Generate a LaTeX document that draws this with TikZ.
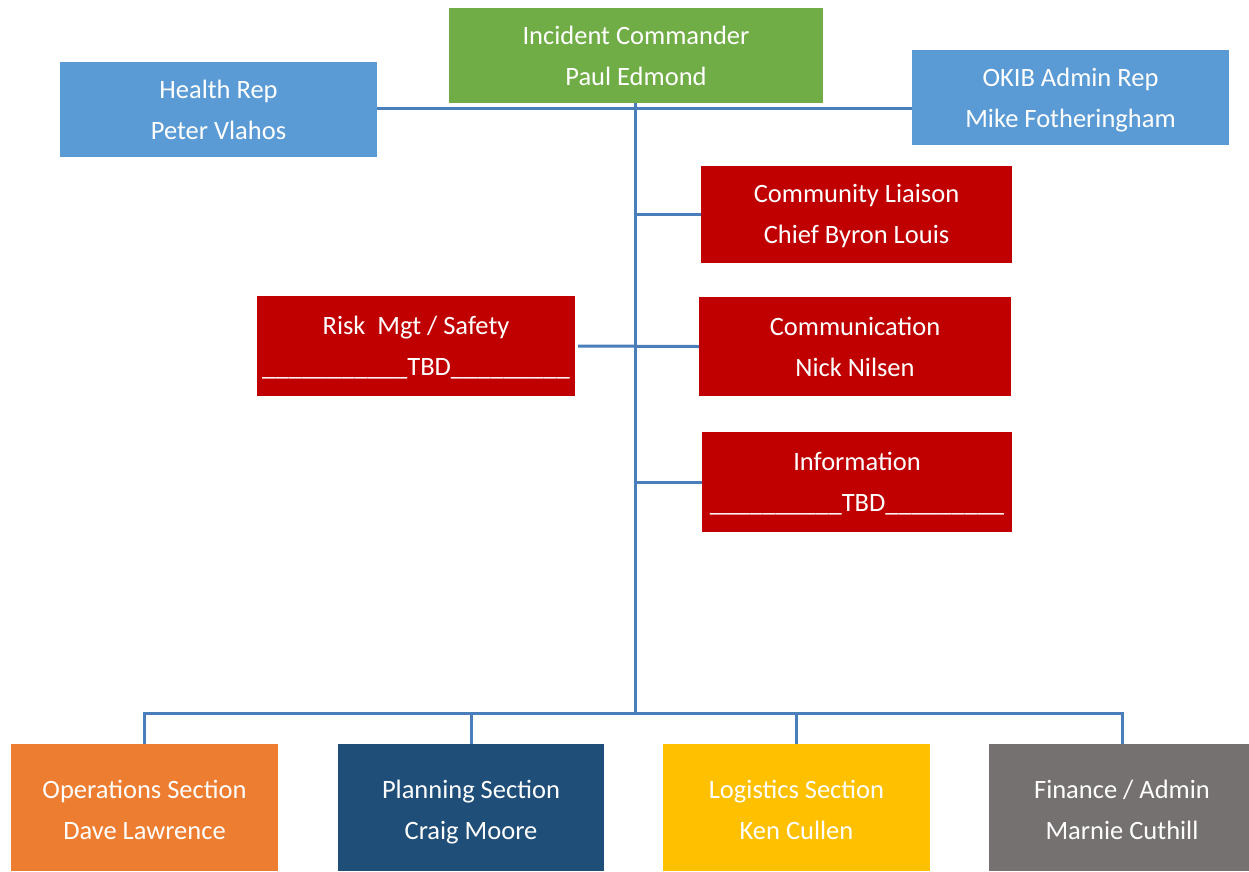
\documentclass[tikz,border=0pt]{standalone}
\usepackage{fontspec}
\setmainfont{Carlito}
\definecolor{icgreen}{HTML}{70AD47}
\definecolor{repblue}{HTML}{5B9BD5}
\definecolor{staffred}{HTML}{C00000}
\definecolor{opsorange}{HTML}{ED7D31}
\definecolor{plannavy}{HTML}{1F4E79}
\definecolor{loggold}{HTML}{FFC000}
\definecolor{fingray}{HTML}{767171}
\definecolor{linkblue}{HTML}{4A7EBB}
\begin{document}
\begin{tikzpicture}[x=1pt,y=-1pt,
  unit/.style 2 args={draw=none, inner sep=0pt, minimum width=#1, minimum height=#2},
  caption/.style={text=white, align=center, font=\fontsize{26.5}{41}\selectfont,
    inner sep=0pt, yshift=-6pt, execute at begin node=\strut, execute at end node=\strut},
  link/.style={draw=linkblue, line width=3pt}]
\useasboundingbox (0,0) rectangle (1249,871);
% coloured unit boxes
\node[unit={374pt}{95pt}, fill=icgreen] (ic) at (636,55.5) {};
\node[unit={317pt}{95pt}, fill=repblue] (health) at (218.5,109.5) {};
\node[unit={317pt}{95pt}, fill=repblue] (okib) at (1070.5,97.5) {};
\node[unit={311pt}{97pt}, fill=staffred] (comm) at (856.5,214.5) {};
\node[unit={318pt}{100pt}, fill=staffred] (risk) at (416,346) {};
\node[unit={312pt}{99pt}, fill=staffred] (cmn) at (855,346.5) {};
\node[unit={310pt}{100pt}, fill=staffred] (info) at (857,482) {};
\node[unit={267pt}{127pt}, fill=opsorange] (ops) at (144.5,807.5) {};
\node[unit={266pt}{127pt}, fill=plannavy] (plan) at (471,807.5) {};
\node[unit={267pt}{127pt}, fill=loggold] (log) at (796.5,807.5) {};
\node[unit={266pt}{127pt}, fill=fingray] (fin) at (1122,807.5) {};
% box captions
\node[caption] (ic t) at (ic) {Incident Commander\\Paul Edmond};
\node[caption] (health t) at (health) {Health Rep\\Peter Vlahos};
\node[caption] (okib t) at (okib) {OKIB Admin Rep\\Mike Fotheringham};
\node[caption] (comm t) at (comm) {Community Liaison\\Chief Byron Louis};
\node[caption] (risk t) at (risk) {Risk\ \ Mgt / Safety\\\_\_\_\_\_\_\_\_\_\_\_TBD\_\_\_\_\_\_\_\_\_};
\node[caption] (cmn t) at (cmn) {Communication\\Nick Nilsen};
\node[caption] (info t) at (info) {Information\\\_\_\_\_\_\_\_\_\_\_TBD\_\_\_\_\_\_\_\_\_};
\node[caption, yshift=-2.5pt] (ops t) at (ops) {Operations Section\\Dave Lawrence};
\node[caption, yshift=-2.5pt] (plan t) at (plan) {Planning Section\\Craig Moore};
\node[caption, yshift=-2.5pt] (log t) at (log) {Logistics Section\\Ken Cullen};
\node[caption, yshift=-2.5pt] (fin t) at (fin) {Finance / Admin\\Marnie Cuthill};
% junctions on the trunk
\coordinate (top) at (635,108);
\coordinate (bot) at (635,713);
% connectors
\draw[link] (health.east |- top) -- (okib.west |- top);
\draw[link] (ic.south -| top) -- (bot);
\draw[link] (top |- comm.west) -- (comm.west);
\draw[link] ([xshift=3pt]risk.east) -- (cmn.west);
\draw[link] (top |- info.west) -- (info.west);
\draw[link] (ops.north) -- (ops.north |- bot) -- (fin.north |- bot) -- (fin.north);
\draw[link] (plan.north) -- (plan.north |- bot);
\draw[link] (log.north) -- (log.north |- bot);
\end{tikzpicture}
\end{document}
